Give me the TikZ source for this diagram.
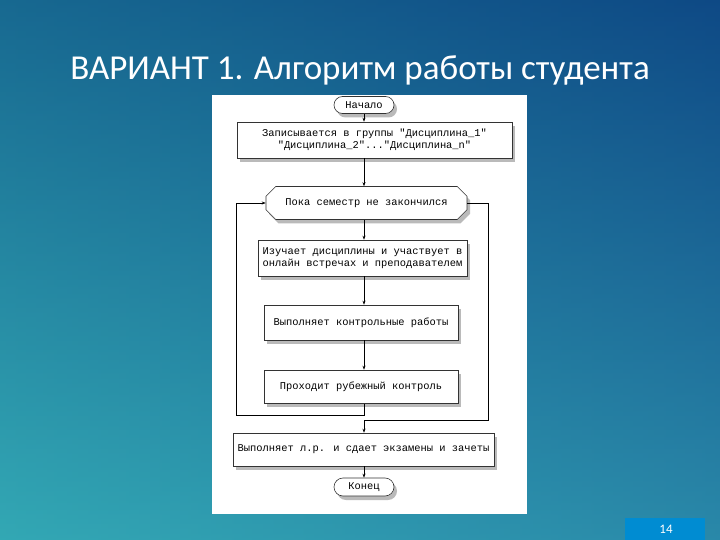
\documentclass[tikz,border=0pt]{standalone}
\usepackage{fontspec}
\setmainfont{Carlito}
\newfontfamily\monof{Liberation Mono}
\usetikzlibrary{shapes.misc,shapes.geometric,shadows,arrows.meta}
\definecolor{bgA}{RGB}{40,160,175}
\definecolor{bgB}{RGB}{20,90,150}
\definecolor{bgC}{RGB}{10,60,120}
\definecolor{bgD}{RGB}{60,175,185}
\definecolor{pgblue}{RGB}{0,140,210}
\begin{document}
\begin{tikzpicture}[x=1pt,y=-1pt,
  blk/.style={draw=black!80,line width=0.6pt,fill=white,font=\monof\fontsize{10.4}{12.5}\selectfont,align=center,inner sep=2pt,
    drop shadow={shadow xshift=3pt,shadow yshift=-4pt,fill=black!45,opacity=0.6}},
  term/.style={blk,rounded rectangle,minimum width=64pt,minimum height=17pt},
  arr/.style={-{Stealth[length=4pt,width=3pt]},line width=0.6pt},
  ln/.style={line width=0.6pt}]
\useasboundingbox (0,0) rectangle (720,540);
\shade[left color=bgA,right color=bgB] (0,0) rectangle (720,540);
\shade[top color=bgC,bottom color=bgD,opacity=0.55] (0,0) rectangle (720,540);
\fill[white] (212,95) rectangle (527,514);
\node[text=white,font=\fontsize{35}{40}\selectfont] (title) at (360,70) {ВАРИАНТ 1. Алгоритм работы студента};
\fill[pgblue] (625,518) rectangle (705,540);
\node[text=white,font=\fontsize{13}{15}\selectfont] (pg) at (666,529) {14};

\node[term] (start) at (364,105) {Начало};
\node[blk,minimum width=275pt,minimum height=36pt] (b1) at (374.5,140) {Записывается в группы "Дисциплина\_1"\\"Дисциплина\_2"..."Дисциплина\_n"};
\node[blk,chamfered rectangle,chamfered rectangle xsep=7pt,minimum width=201pt,minimum height=33pt,inner xsep=8pt] (hex) at (366.5,203) {Пока семестр не закончился};
\node[blk,minimum width=209pt,minimum height=36pt] (b2) at (362.5,258) {Изучает дисциплины и участвует в\\онлайн встречах и преподавателем};
\node[blk,minimum width=194pt,minimum height=35pt] (b3) at (361,322.5) {Выполняет контрольные работы};
\node[blk,minimum width=194pt,minimum height=33pt] (b4) at (361,386.5) {Проходит рубежный контроль};
\node[blk,minimum width=261pt,minimum height=33pt] (b5) at (363.5,449.5) {Выполняет л.р. и сдает экзамены и зачеты};
\node[term,minimum height=18pt] (end) at (364,487) {Конец};

\draw[arr] (start.south) -- (start.south |- b1.north);
\draw[arr] (start.south |- b1.south) -- (start.south |- hex.north);
\draw[arr] (start.south |- hex.south) -- (start.south |- b2.north);
\draw[arr] (start.south |- b2.south) -- (start.south |- b3.north);
\draw[arr] (start.south |- b3.south) -- (start.south |- b4.north);
\coordinate (l0) at (364,403.5);
\coordinate (l1) at (364,415);
\coordinate (l2) at (236,415);
\coordinate (l3) at (236,203);
\draw[ln,-{Stealth[length=4pt,width=3pt]}] (l0) -- (l1) -- (l2) -- (l3) -- (hex.west);
\coordinate (r1) at (488,203);
\coordinate (r2) at (488,420);
\coordinate (r3) at (364,420);
\draw[ln,-{Stealth[length=4pt,width=3pt]}] (hex.east) -- (r1) -- (r2) -- (r3) -- (r3 |- b5.north);
\draw[arr] (start.south |- b5.south) -- (end.north);
\end{tikzpicture}
\end{document}
